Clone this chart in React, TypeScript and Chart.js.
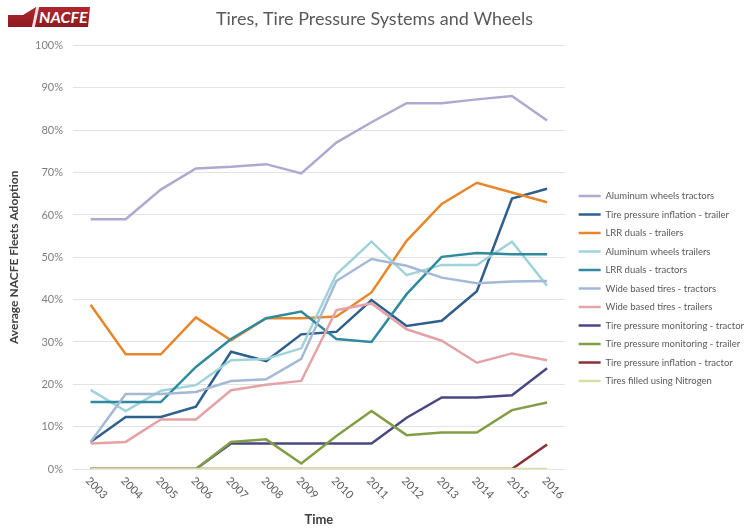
import React, { useEffect, useRef } from 'react';
import { Chart, registerables } from 'chart.js';

Chart.register(...registerables);

const years = ['2003', '2004', '2005', '2006', '2007', '2008', '2009', '2010', '2011', '2012', '2013', '2014', '2015', '2016'];

const aluWheelsTractors = [59, 59, 66, 71, 71.4, 72, 69.8, 77.1, 81.9, 86.4, 86.4, 87.3, 88.1, 82.3];
const tpiTrailer = [6.4, 12.3, 12.3, 14.7, 27.7, 25.5, 31.8, 32.4, 39.9, 33.8, 35, 42, 63.9, 66.2];
const lrrTrailers = [38.8, 27.1, 27.1, 35.8, 30.4, 35.6, 35.6, 36, 41.7, 53.9, 62.6, 67.6, 65.3, 63];
const aluWheelsTrailers = [18.7, 13.7, 18.5, 19.8, 25.7, 26, 28.5, 46, 53.7, 45.8, 48.2, 48.2, 53.7, 43.3];
const lrrTractors = [15.8, 15.8, 15.8, 24.1, 30.7, 35.6, 37.2, 30.7, 30, 41.3, 50.1, 51, 50.7, 50.7];
const wideTractors = [6.4, 17.7, 17.7, 18.2, 20.8, 21.2, 26, 44.4, 49.6, 48, 45.2, 43.9, 44.3, 44.4];
const wideTrailers = [6, 6.4, 11.7, 11.7, 18.6, 19.9, 20.8, 37.5, 39.1, 33, 30.3, 25.1, 27.3, 25.7];
const tpmTractor = [0, 0, 0, 0, 6, 6, 6, 6, 6, 12.1, 16.9, 16.9, 17.4, 23.8];
const tpmTrailer = [0, 0, 0, 0, 6.4, 7, 1.3, 7.8, 13.7, 8, 8.6, 8.6, 13.9, 15.7];
const tpiTractor = [0, 0, 0, 0, 0, 0, 0, 0, 0, 0, 0, 0, 0, 5.8];
const nitrogen = [0, 0, 0, 0, 0, 0, 0, 0, 0, 0, 0, 0, 0, 0];

const seriesNames = [
  'Aluminum wheels tractors',
  'Tire pressure inflation - trailer',
  'LRR duals - trailers',
  'Aluminum wheels trailers',
  'LRR duals - tractors',
  'Wide based tires - tractors',
  'Wide based tires - trailers',
  'Tire pressure monitoring - tractor',
  'Tire pressure monitoring - trailer',
  'Tire pressure inflation - tractor',
  'Tires filled using Nitrogen',
];
const seriesValues = [
  aluWheelsTractors, tpiTrailer, lrrTrailers, aluWheelsTrailers, lrrTractors,
  wideTractors, wideTrailers, tpmTractor, tpmTrailer, tpiTractor, nitrogen,
];
const seriesColors = [
  '#b1a8cf', '#2f5f8c', '#e8862a', '#9fd3da', '#2f8a9e',
  '#a3b9d6', '#e4a3a7', '#4a4880', '#819e44', '#8c2e36', '#d6e0a3',
];

const FONT = 'Lato, "Open Sans", sans-serif';

// x labels go down to the right, so they are drawn by hand at the tick pixels
const xLabels = {
  id: 'xLabels',
  afterDraw(chart: Chart) {
    const { ctx } = chart;
    const xs = chart.scales.x;
    ctx.save();
    ctx.font = `11px ${FONT}`;
    ctx.fillStyle = '#595959';
    ctx.textAlign = 'left';
    ctx.textBaseline = 'middle';
    years.forEach((y, i) => {
      const px = xs.getPixelForTick(i);
      ctx.save();
      ctx.translate(px - 3, xs.top + 10);
      ctx.rotate(Math.PI / 4);
      ctx.fillText(y, 0, 0);
      ctx.restore();
    });
    ctx.restore();
  },
};

// nudge the legend a bit right and down, like the original
const legendNudge = {
  id: 'legendNudge',
  afterLayout(chart: any) {
    const lg = chart.legend;
    if (!lg) return;
    lg.left += 5;
    lg.right += 5;
    lg.top += 23;
    lg.bottom += 23;
  },
};

const App = () => {
  const canvasRef = useRef<HTMLCanvasElement | null>(null);

  useEffect(() => {
    if (!canvasRef.current) return;
    const n = seriesNames.length;
    const chart = new Chart(canvasRef.current, {
      type: 'line',
      data: {
        labels: years,
        datasets: seriesNames.map((name, i) => ({
          label: name,
          data: seriesValues[i],
          borderColor: seriesColors[i],
          backgroundColor: seriesColors[i],
          borderWidth: 2.5,
          pointRadius: 0,
          tension: 0,
          order: n - i,
        })),
      },
      options: {
        animation: false,
        responsive: false,
        layout: { padding: { top: 0, right: -2, bottom: 0, left: 0 } },
        plugins: {
          title: {
            display: true,
            text: 'Tires, Tire Pressure Systems and Wheels',
            color: '#595959',
            font: { family: FONT, size: 18, weight: 'normal' },
            padding: { top: 8, bottom: 16 },
          },
          legend: {
            position: 'right',
            align: 'center',
            labels: {
              usePointStyle: true,
              pointStyle: 'line',
              pointStyleWidth: 22,
              padding: 9,
              color: '#595959',
              font: { family: FONT, size: 9.5 },
              sort: (a, b) => (a.datasetIndex ?? 0) - (b.datasetIndex ?? 0),
            },
          },
          tooltip: { enabled: false },
        },
        scales: {
          x: {
            offset: true,
            grid: { display: false },
            border: { display: false },
            ticks: { display: false },
            title: {
              display: true,
              text: 'Time',
              color: '#404040',
              font: { family: FONT, size: 13, weight: 'bold' },
              padding: { top: 0, bottom: 3 },
            },
            afterFit: (s: any) => { s.height = 62; },
          },
          y: {
            min: 0,
            max: 100,
            ticks: {
              stepSize: 10,
              padding: 10,
              color: '#7f7f7f',
              font: { family: FONT, size: 11 },
              callback: (v) => `${v}%`,
            },
            grid: { color: '#e3e3e3', drawTicks: false, lineWidth: 1 },
            border: { display: false },
            title: {
              display: true,
              text: 'Average NACFE Fleets Adoption',
              color: '#404040',
              font: { family: FONT, size: 12, weight: 'bold' },
              padding: { top: 7, bottom: 0 },
            },
            afterFit: (s: any) => { s.width = 73; },
          },
        },
      },
      plugins: [xLabels, legendNudge],
    });
    return () => chart.destroy();
  }, []);

  return (
    <div style={{ position: 'absolute', left: 0, top: 0, width: 747, height: 531, background: '#fff' }}>
      <canvas ref={canvasRef} width={747} height={531} />
      <div
        style={{
          position: 'absolute', left: 8, top: 7, width: 82, height: 20,
          background: 'linear-gradient(180deg, #b0262e 0%, #8e1a21 100%)',
          clipPath: 'polygon(0 8px, 15px 8px, 28px 0, 82px 0, 80px 20px, 0 20px)',
        }}
      >
        <div
          style={{
            position: 'absolute', left: 26, top: 0, width: 3, height: 20,
            background: '#f4dede', transform: 'skewX(-12deg)',
          }}
        />
        <div
          style={{
            position: 'absolute', left: 31, top: 0, height: 20, lineHeight: '20px',
            color: '#fff', fontFamily: FONT, fontWeight: 'bold', fontStyle: 'italic',
            fontSize: 16, letterSpacing: 0,
          }}
        >
          NACFE
        </div>
      </div>
    </div>
  );
};

export default App;
